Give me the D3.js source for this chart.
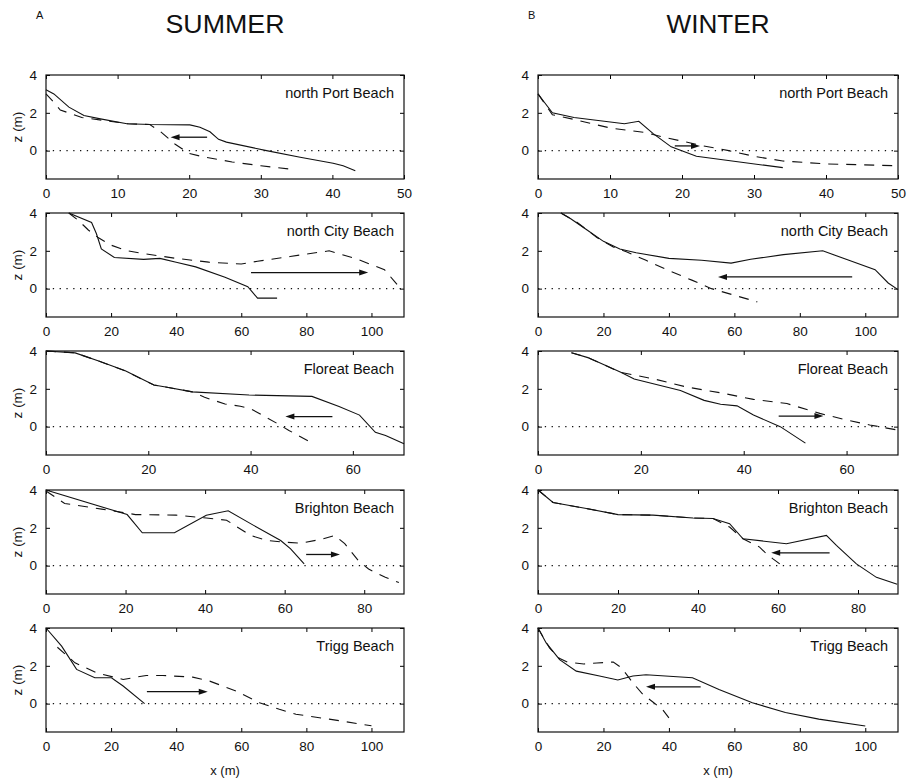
<!DOCTYPE html>
<html><head><meta charset="utf-8">
<script src="https://cdn.jsdelivr.net/npm/d3@7"></script>
<style>
body{margin:0;background:#fff}
svg{display:block}
text{font-family:"Liberation Sans",Arial,Helvetica,sans-serif;fill:#111}
</style></head>
<body><svg id="c" width="910" height="781"></svg>
<script>
// ---- data ----
const beaches = ["north Port Beach","north City Beach","Floreat Beach","Brighton Beach","Trigg Beach"];
const xMax = [50,110,70,90,110];
const xTicks = [[0,10,20,30,40,50],[0,20,40,60,80,100],[0,20,40,60],[0,20,40,60,80],[0,20,40,60,80,100]];
const zTicks = [0,2,4];
const zDomain = [-1.5,4];

const summerSolid = [
  [[0,3.22],[1.1,3.0],[3.2,2.3],[5.3,1.86],[7.6,1.68],[11.3,1.42],[14.6,1.38],[20.1,1.36],[21.5,1.24],[22.9,1.0],[24.1,0.6],[25.2,0.45],[30.8,0],[35.5,-0.35],[40.1,-0.67],[41.5,-0.8],[43.2,-1.06]],
  [[7,4.0],[14,3.5],[15.5,2.9],[17,2.1],[21,1.65],[30,1.55],[35,1.6],[40,1.4],[46,1.15],[55,0.6],[62,0.1],[65,-0.5],[71,-0.5]],
  [[0,4.0],[5.7,3.9],[10.3,3.47],[15.5,2.95],[21.1,2.2],[23.4,2.1],[28.6,1.84],[39.7,1.67],[52,1.6],[57.3,1.07],[61.3,0.61],[64.4,-0.3],[66.4,-0.47],[70,-0.91]],
  [[0,4.0],[20.4,2.7],[24.2,1.74],[32.3,1.74],[40.3,2.67],[45.8,2.9],[52.2,2.13],[59,1.33],[61.5,0.89],[64.9,0.09]],
  [[0,4.0],[4.8,3.04],[9.4,1.81],[15,1.37],[20.1,1.37],[23.7,0.93],[30.3,0.0]]
];
const summerDashed = [
  [[0,3.0],[1.1,2.55],[2,2.15],[5,1.75],[8,1.6],[11.5,1.42],[14.5,1.38],[16,1.0],[18,0.35],[20,-0.15],[22,-0.33],[26,-0.6],[30,-0.8],[34,-0.97]],
  [[7,4.0],[10,3.6],[13,3.1],[16,2.7],[20,2.3],[25,2.0],[30,1.85],[40,1.6],[50,1.4],[60,1.3],[65,1.45],[75,1.7],[87,2.0],[95,1.6],[104,1.0],[107,0.4],[109,0.0]],
  [[0,4.0],[5.7,3.9],[10.3,3.47],[15.5,2.95],[21.1,2.2],[23.4,2.1],[28.6,1.84],[31,1.55],[35,1.2],[38,1.08],[40,0.95],[42,0.65],[45,0.2],[47.5,-0.2],[52.4,-0.92]],
  [[0,3.95],[4.7,3.29],[14,2.99],[22.5,2.7],[32.7,2.67],[40.3,2.52],[45.4,2.4],[51.4,1.6],[55.6,1.33],[59.8,1.24],[64.1,1.19],[69.2,1.39],[72.6,1.6],[75.1,1.16],[78.5,0.27],[81.1,-0.18],[85.3,-0.62],[88.7,-0.89]],
  [[3.5,2.98],[8.9,2.16],[15.5,1.63],[23.7,1.28],[30.8,1.49],[35.9,1.49],[45.1,1.4],[50.3,1.19],[58.4,0.67],[65.6,0.05],[71.7,-0.3],[76.8,-0.56],[87,-0.82],[100,-1.17]]
];
const summerArrows = [[22.5,17.4,0.71],[63,99,0.85],[56,46.8,0.53],[65.4,73.9,0.59],[31,49.7,0.63]];

const winterSolid = [
  [[0,3.0],[0.8,2.6],[2,2.0],[5,1.75],[12,1.42],[14,1.55],[16,0.9],[18.5,0.2],[22,-0.3],[28,-0.6],[34,-0.9]],
  [[7,4.0],[10,3.7],[15,3.1],[20,2.5],[25,2.1],[30,1.9],[40,1.6],[50,1.5],[59,1.35],[65,1.55],[75,1.8],[87,2.0],[95,1.5],[103,1.0],[107,0.3],[110,-0.05]],
  [[6.5,3.91],[9.7,3.65],[16.1,2.87],[18.7,2.52],[27.7,1.91],[32.3,1.39],[35.5,1.18],[38.7,1.1],[41.9,0.61],[47.1,0.0],[52,-0.87]],
  [[0,4.0],[3.75,3.34],[12.1,3.02],[20,2.7],[28.75,2.67],[38.75,2.52],[43.75,2.49],[47.9,2.22],[51.25,1.42],[62.1,1.16],[72.1,1.6],[74.6,1.07],[79.6,0.09],[84.6,-0.62],[89.8,-0.98]],
  [[0,4.0],[2.5,3.21],[6.6,2.33],[11.7,1.72],[18.8,1.46],[24.4,1.25],[29,1.46],[33,1.53],[47.2,1.37],[55.3,0.75],[65.5,0.05],[75.6,-0.47],[85.8,-0.82],[100,-1.18]]
];
const winterDashed = [
  [[0,3.0],[2,1.9],[5,1.65],[10,1.2],[15,0.95],[17.3,0.72],[20.5,0.46],[23,0.25],[26.5,0.0],[30,-0.3],[34,-0.55],[40,-0.7],[45,-0.75],[50,-0.8]],
  [[7,4.0],[12,3.5],[18,2.7],[23,2.2],[27,1.95],[33,1.5],[40,0.95],[47,0.45],[53,0.0],[60,-0.35],[67,-0.7]],
  [[6.5,3.91],[9.7,3.65],[16.1,2.87],[18.7,2.73],[22.6,2.52],[29,2.09],[35.5,1.79],[41.9,1.44],[48.4,1.22],[54.8,0.7],[60,0.35],[64.5,0.09],[69.7,-0.17]],
  [[0,4.0],[3.75,3.34],[12.1,3.02],[20,2.7],[28.75,2.67],[38.75,2.52],[43.75,2.49],[44.6,2.4],[47.9,2.04],[51.25,1.42],[55.4,0.98],[56.7,0.71],[58.75,0.36],[61.25,-0.04]],
  [[0,4.0],[3.5,2.95],[6.5,2.4],[9,2.2],[14,2.1],[18,2.15],[23,2.2],[25.5,1.9],[29,1.1],[32,0.5],[35,0.1],[38,-0.3],[40,-0.75]]
];
const winterArrows = [[19,22.5,0.25],[96,55,0.62],[46.8,55.5,0.56],[72.9,58.3,0.68],[49.7,33,0.89]];

// ---- layout ----
const svg = d3.select("#c");
const tops = [75,213,351,490,628];
const ph = 104;
const cols = [{left:46,w:358,title:"SUMMER",tlen:119,letter:"A",solid:summerSolid,dashed:summerDashed,arrows:summerArrows,ylab:true},
              {left:538,w:360,title:"WINTER",tlen:103,letter:"B",solid:winterSolid,dashed:winterDashed,arrows:winterArrows,ylab:false}];

cols.forEach(col=>{
  svg.append("text").attr("x",col.left+col.w/2).attr("y",33).attr("text-anchor","middle")
    .attr("font-size",26).attr("textLength",col.tlen).attr("lengthAdjust","spacingAndGlyphs").text(col.title);
  svg.append("text").attr("x",col.left-10).attr("y",19).attr("font-size",11).text(col.letter);
  svg.append("text").attr("x",col.left+col.w/2).attr("y",775).attr("text-anchor","middle")
    .attr("font-size",13).text("x (m)");

  tops.forEach((top,i)=>{
    const x = d3.scaleLinear().domain([0,xMax[i]]).range([col.left,col.left+col.w]);
    const y = d3.scaleLinear().domain(zDomain).range([top+ph,top]);
    const g = svg.append("g");
    g.append("line").attr("x1",x(0)).attr("x2",x(xMax[i])).attr("y1",y(0)).attr("y2",y(0))
      .attr("stroke","#111").attr("stroke-width",1.3).attr("stroke-dasharray","1.3,5.5");
    g.append("g").attr("transform",`translate(0,${top+ph})`)
      .call(d3.axisBottom(x).tickValues(xTicks[i]).tickSize(-4).tickPadding(9).tickFormat(d3.format("d")))
      .call(a=>{a.select(".domain").remove();a.selectAll("text").attr("font-size",13.5).attr("font-family","Liberation Sans, Arial, sans-serif");});
    g.append("g").attr("transform",`translate(0,${top})`)
      .call(d3.axisTop(x).tickValues(xTicks[i]).tickSize(-4).tickFormat(""))
      .call(a=>a.select(".domain").remove());
    g.append("g").attr("transform",`translate(${col.left},0)`)
      .call(d3.axisLeft(y).tickValues(zTicks).tickSize(-4).tickPadding(9).tickFormat(d3.format("d")))
      .call(a=>{a.select(".domain").remove();a.selectAll("text").attr("font-size",13.5).attr("font-family","Liberation Sans, Arial, sans-serif");});
    g.append("g").attr("transform",`translate(${col.left+col.w},0)`)
      .call(d3.axisRight(y).tickValues(zTicks).tickSize(-4).tickFormat(""))
      .call(a=>a.select(".domain").remove());
    g.append("rect").attr("x",col.left).attr("y",top).attr("width",col.w).attr("height",ph)
      .attr("fill","none").attr("stroke","#111").attr("stroke-width",1.2);

    const line = d3.line().x(d=>x(d[0])).y(d=>y(d[1]));
    g.append("path").datum(col.dashed[i]).attr("d",line).attr("fill","none")
      .attr("stroke","#111").attr("stroke-width",1.1).attr("stroke-dasharray","10,8");
    g.append("path").datum(col.solid[i]).attr("d",line).attr("fill","none")
      .attr("stroke","#111").attr("stroke-width",1.1);

    const [a0,a1,az] = col.arrows[i];
    const x0=x(a0), x1=x(a1), yy=y(az), dir=Math.sign(x1-x0);
    g.append("line").attr("x1",x0).attr("x2",x1-dir*7).attr("y1",yy).attr("y2",yy)
      .attr("stroke","#111").attr("stroke-width",1.3);
    g.append("path").attr("d",`M${x1},${yy}L${x1-dir*9},${yy-3}L${x1-dir*9},${yy+3}Z`).attr("fill","#111");

    g.append("text").attr("x",col.left+col.w-10).attr("y",top+23).attr("text-anchor","end")
      .attr("font-size",14.5).text(beaches[i]);

    if(col.ylab){
      svg.append("text").attr("transform",`translate(22,${top+ph/2}) rotate(-90)`)
        .attr("text-anchor","middle").attr("font-size",13.5).text("z (m)");
    }
  });
});
</script></body></html>
